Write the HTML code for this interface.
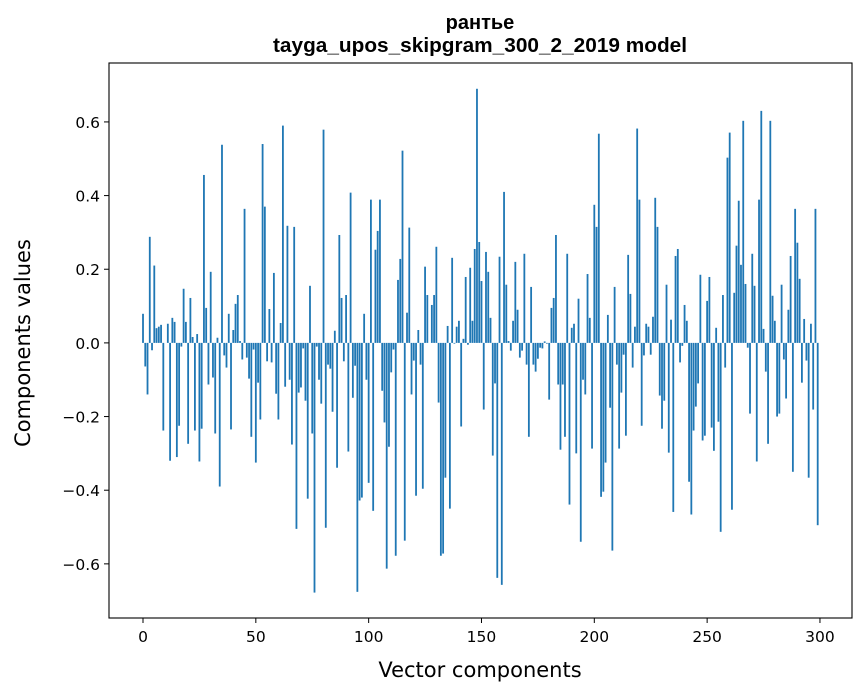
<!DOCTYPE html>
<html><head><meta charset="utf-8"><style>
body{margin:0;background:#fff;}
svg{display:block;font-family:"Liberation Sans","DejaVu Sans",sans-serif;}
.dv{font-family:"DejaVu Sans","Liberation Sans",sans-serif;}
</style></head><body>
<svg id="chart" width="867" height="696">
<text x="480" y="29" text-anchor="middle" font-size="20" font-weight="bold">рантье</text>
<text x="480" y="52" text-anchor="middle" font-size="20" font-weight="bold" textLength="414" lengthAdjust="spacingAndGlyphs">tayga_upos_skipgram_300_2_2019 model</text>
<g id="bars"></g>
<g id="axes"></g>
<text class="dv" x="480" y="677" text-anchor="middle" font-size="21">Vector components</text>
<text class="dv" transform="translate(30,343) rotate(-90)" text-anchor="middle" font-size="21">Components values</text>
</svg>
<script>
const values = [0.079,-0.064,-0.14,0.288,-0.02,0.21,0.04,0.044,0.049,-0.238,0,0.052,-0.32,0.068,0.057,-0.31,-0.225,-0.01,0.147,0.057,
-0.274,0.122,0.016,-0.238,0.024,-0.322,-0.233,0.456,0.095,-0.113,0.193,-0.094,-0.246,0.014,-0.39,0.538,-0.034,-0.067,0.079,-0.235,
0.035,0.106,0.13,0.005,-0.045,0.364,-0.04,-0.097,-0.255,-0.018,-0.325,-0.108,-0.208,0.54,0.37,-0.05,0.092,-0.053,0.19,-0.138,
-0.208,0.054,0.59,-0.119,0.318,-0.1,-0.276,0.315,-0.505,-0.135,-0.121,-0.015,-0.157,-0.423,0.155,-0.246,-0.678,-0.01,-0.1,-0.165,
0.579,-0.502,-0.059,-0.07,-0.187,0.033,-0.339,0.293,0.122,-0.05,0.13,-0.295,0.408,-0.149,-0.062,-0.676,-0.428,-0.42,0.079,-0.1,
-0.38,0.389,-0.456,0.253,0.304,0.389,-0.13,-0.216,-0.613,-0.282,-0.08,-0.018,-0.578,0.171,0.228,0.522,-0.537,0.082,0.313,-0.14,
-0.048,-0.415,0.035,-0.059,-0.396,0.207,0.13,0,0.103,0.13,0.261,-0.162,-0.578,-0.572,-0.366,0.046,-0.45,0.231,-0.002,0.044,
0.06,-0.227,0.011,0.179,-0.005,0.204,0.06,0.255,0.69,0.274,0.168,-0.181,0.247,0.193,0.068,-0.306,-0.11,-0.638,0.234,-0.657,
0.41,0.158,0.005,-0.021,0.06,0.22,0.09,-0.04,-0.021,0.242,-0.059,-0.255,0.152,-0.059,-0.078,-0.043,-0.013,-0.015,0.004,-0.002,
-0.154,0.095,0.122,0.293,-0.113,-0.29,-0.113,-0.255,0.242,-0.439,0.041,0.052,-0.3,0.12,-0.54,-0.1,-0.14,0.187,0.068,-0.287,
0.375,0.315,0.568,-0.418,-0.404,-0.325,0.076,-0.176,-0.564,0.152,-0.059,-0.287,-0.135,-0.032,-0.252,0.239,0.133,-0.067,0.044,0.582,
0.389,-0.225,-0.034,0.052,0.044,-0.032,0.071,0.394,0.315,-0.143,-0.233,-0.157,0.158,-0.298,0.063,-0.459,0.236,0.255,-0.053,-0.008,
0.103,0.06,-0.377,-0.466,-0.238,-0.173,-0.11,0.185,-0.265,-0.252,0.114,0.179,-0.23,-0.293,0.041,-0.214,-0.513,0.13,-0.067,0.503,
0.571,-0.453,0.136,0.264,0.386,0.212,0.603,0.16,-0.013,-0.192,0.242,0.155,-0.322,0.389,0.63,0.038,-0.078,-0.274,0.603,0.128,
0.06,-0.2,-0.192,0.158,-0.045,-0.151,0.09,0.236,-0.35,0.364,0.272,0.174,-0.108,0.065,-0.048,-0.366,0.052,-0.181,0.364,-0.495];
const xTicks = [0,50,100,150,200,250,300];
const yTicks = [-0.6,-0.4,-0.2,0.0,0.2,0.4,0.6];
const yTickLabels = ["\u22120.6","\u22120.4","\u22120.2","0.0","0.2","0.4","0.6"];

const L=109,R=852,T=63,B=618;
const xmin=-15.07,xmax=314.2,ymin=-0.747,ymax=0.76;
const xs=v=>L+(v-xmin)/(xmax-xmin)*(R-L);
const ys=v=>B-(v-ymin)/(ymax-ymin)*(B-T);
const NS="http://www.w3.org/2000/svg";
const bars=document.getElementById('bars');
values.forEach((v,i)=>{
  const r=document.createElementNS(NS,'rect');
  const x0=xs(i-0.4),x1=xs(i+0.4);
  const y0=ys(Math.max(v,0)),y1=ys(Math.min(v,0));
  r.setAttribute('x',x0);r.setAttribute('width',x1-x0);
  r.setAttribute('y',y0);r.setAttribute('height',Math.max(y1-y0,0.01));
  r.setAttribute('fill','#1f77b4');
  
  
  bars.appendChild(r);
});
const axes=document.getElementById('axes');
const frame=document.createElementNS(NS,'rect');
frame.setAttribute('x',L);frame.setAttribute('y',T);frame.setAttribute('width',R-L);frame.setAttribute('height',B-T);
frame.setAttribute('fill','none');frame.setAttribute('stroke','#000');frame.setAttribute('stroke-width','1.1');


axes.appendChild(frame);
xTicks.forEach(t=>{
  const x=xs(t);
  const l=document.createElementNS(NS,'line');
  l.setAttribute('x1',x);l.setAttribute('x2',x);l.setAttribute('y1',B);l.setAttribute('y2',B+5);l.setAttribute('stroke','#000');
  
  
  axes.appendChild(l);
  const tx=document.createElementNS(NS,'text');
  tx.setAttribute('x',x);tx.setAttribute('y',B+24);tx.setAttribute('text-anchor','middle');tx.setAttribute('font-size','15.5');
  tx.setAttribute('class','dv');
  tx.textContent=t;
  
  
  axes.appendChild(tx);
});
yTicks.forEach((t,i)=>{
  const y=ys(t);
  const l=document.createElementNS(NS,'line');
  l.setAttribute('x1',L-5);l.setAttribute('x2',L);l.setAttribute('y1',y);l.setAttribute('y2',y);l.setAttribute('stroke','#000');
  
  
  axes.appendChild(l);
  const tx=document.createElementNS(NS,'text');
  tx.setAttribute('x',L-9);tx.setAttribute('y',y+6);tx.setAttribute('text-anchor','end');tx.setAttribute('font-size','15.5');
  tx.setAttribute('class','dv');
  tx.textContent=yTickLabels[i];
  
  
  axes.appendChild(tx);
});
</script>
</body></html>
